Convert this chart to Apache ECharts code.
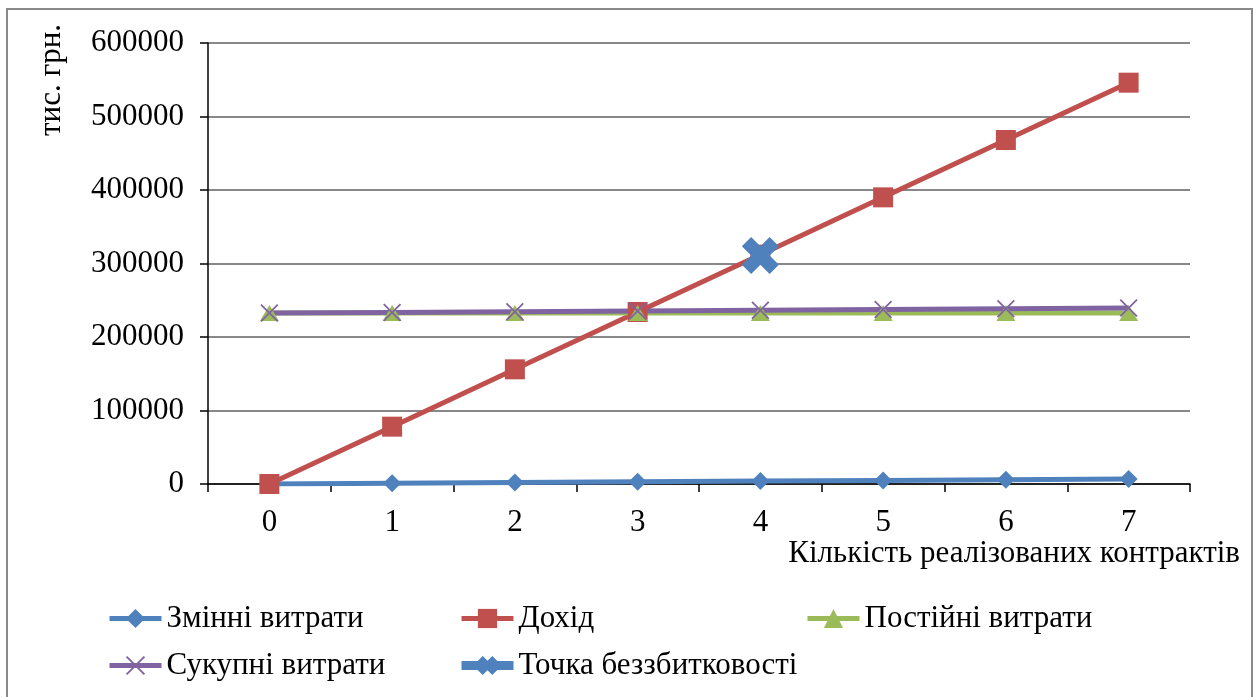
<!DOCTYPE html>
<html>
<head>
<meta charset="utf-8">
<script src="https://cdn.jsdelivr.net/npm/echarts@6/dist/echarts.min.js"></script>
<style>
html,body{margin:0;padding:0;background:#fff;}
#chart{width:1259px;height:697px;}
</style>
</head>
<body>
<div id="chart"></div>
<script>
// ---- data ----
var categories = ['0', '1', '2', '3', '4', '5', '6', '7'];
var variableCosts = [0, 980, 1960, 2940, 3920, 4900, 5880, 6860];
var revenue = [0, 78000, 156000, 234000, 312000, 390000, 468000, 546000];
var fixedCosts = [232500, 232500, 232500, 232500, 232500, 232500, 232500, 232500];
var totalCosts = [232500, 233480, 234460, 235440, 236420, 237400, 238380, 239360];
var breakEven = [null, null, null, null, 311000, null, null, null];
var yTicks = {min: 0, max: 600000, interval: 100000};
var seriesNames = ['Змінні витрати', 'Дохід', 'Постійні витрати', 'Сукупні витрати', 'Точка беззбитковості'];

var FONT = '"Liberation Serif", "Times New Roman", serif';
var FS = 31;
var xPath = 'path://M0,1.4 L1.4,0 L10,8.6 L18.6,0 L20,1.4 L11.4,10 L20,18.6 L18.6,20 L10,11.4 L1.4,20 L0,18.6 L8.6,10 Z';
var bigX = 'path://M0,9 L9,0 L18,9 L27,0 L36,9 L27,18 L36,27 L27,36 L18,27 L9,36 L0,27 L9,18 Z';

var chart = echarts.init(document.getElementById('chart'));
var legendText = {fontFamily: FONT, fontSize: FS, color: '#000'};
function legendBlock(left, items) {
  return {
    orient: 'vertical', left: left, top: 598, itemGap: 16,
    itemWidth: 52, itemHeight: 24,
    lineStyle: {width: 5},
    textStyle: legendText, data: items
  };
}
chart.setOption({
  animation: false,
  backgroundColor: '#fff',
  grid: {left: 208, right: 69, top: 43, bottom: 213, containLabel: false},
  graphic: [
    {type: 'rect', shape: {x: 7, y: 9, width: 1245, height: 700},
     style: {fill: null, stroke: '#8a8a8a', lineWidth: 2}, silent: true, z: -1},
    {type: 'text', x: 52, y: 80, rotation: Math.PI / 2,
     style: {text: 'тис. грн.', fontFamily: FONT, fontSize: FS, fill: '#000',
             align: 'center', verticalAlign: 'middle'}}
  ],
  legend: [
    legendBlock(102, [seriesNames[0], seriesNames[3]]),
    legendBlock(452, [seriesNames[1], {name: seriesNames[4], lineStyle: {width: 9}}]),
    legendBlock(800, [seriesNames[2]])
  ],
  xAxis: {
    type: 'category', data: categories, boundaryGap: true,
    name: 'Кількість реалізованих контрактів', nameLocation: 'end', nameGap: 50,
    nameTextStyle: {fontFamily: FONT, fontSize: FS, color: '#000', align: 'right',
                    verticalAlign: 'top', padding: [54, 0, 0, 0]},
    axisLine: {lineStyle: {color: '#000', width: 1.5}},
    axisTick: {show: true, length: 8, lineStyle: {color: '#000', width: 1.5}},
    axisLabel: {fontFamily: FONT, fontSize: FS, color: '#000', margin: 23},
    splitLine: {show: false}
  },
  yAxis: {
    type: 'value', min: yTicks.min, max: yTicks.max, interval: yTicks.interval,
    axisLine: {show: true, lineStyle: {color: '#000', width: 1.5}},
    axisTick: {show: true, length: 8, lineStyle: {color: '#000', width: 1.5}},
    axisLabel: {fontFamily: FONT, fontSize: FS, color: '#000', margin: 24,
                formatter: function (v) { return String(v); }},
    splitLine: {show: true, lineStyle: {color: '#888888', width: 2}}
  },
  series: [
    {name: seriesNames[0], type: 'line', data: variableCosts,
     symbol: 'diamond', symbolSize: 18,
     itemStyle: {color: '#4F81BD'}, lineStyle: {color: '#4F81BD', width: 5}},
    {name: seriesNames[1], type: 'line', data: revenue,
     symbol: 'rect', symbolSize: 20,
     itemStyle: {color: '#C0504D'}, lineStyle: {color: '#C0504D', width: 5}},
    {name: seriesNames[2], type: 'line', data: fixedCosts,
     symbol: 'triangle', symbolSize: [19, 16],
     itemStyle: {color: '#9BBB59'}, lineStyle: {color: '#9BBB59', width: 5}},
    {name: seriesNames[3], type: 'line', data: totalCosts,
     symbol: xPath, symbolSize: 18,
     itemStyle: {color: '#8064A2'}, lineStyle: {color: '#8064A2', width: 5}},
    {name: seriesNames[4], type: 'line', data: breakEven,
     symbol: bigX, symbolSize: 37,
     itemStyle: {color: '#4F81BD'}, lineStyle: {color: '#4F81BD', width: 9}}
  ]
});
</script>
</body>
</html>
